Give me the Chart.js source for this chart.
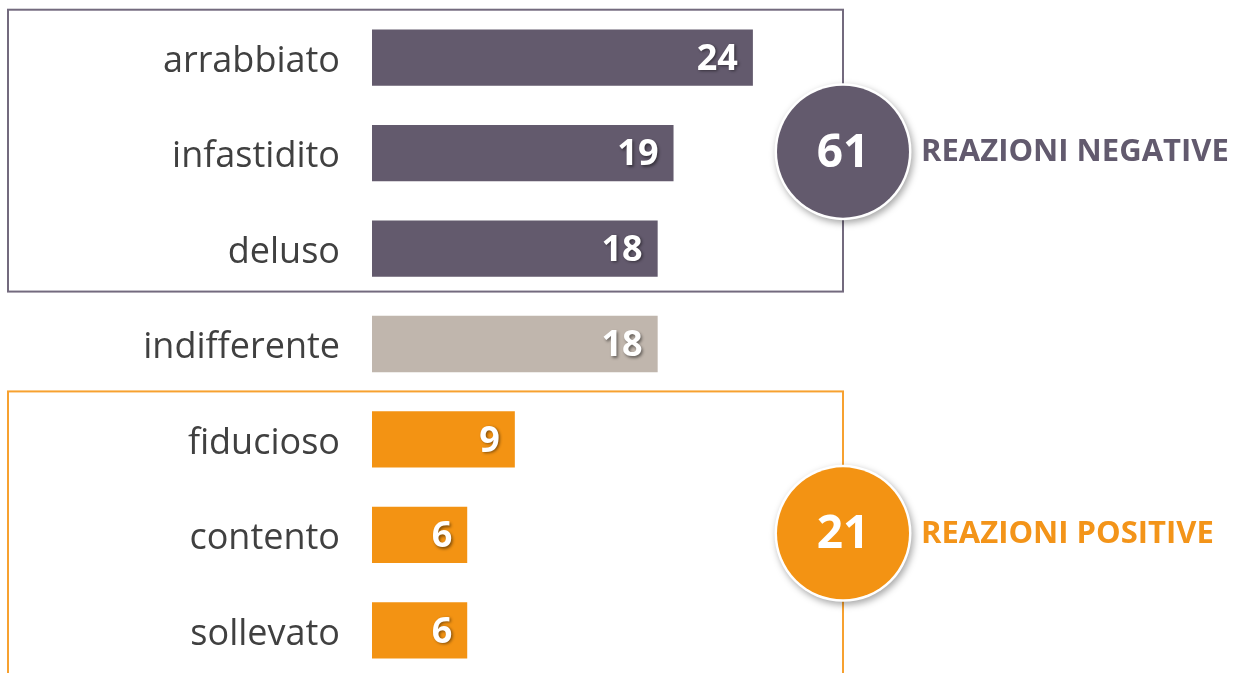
<!DOCTYPE html>
<html>
<head>
<meta charset="utf-8">
<script src="https://cdn.jsdelivr.net/npm/chart.js@4"></script>
<style>
  html, body { margin: 0; padding: 0; background: #fff; overflow: hidden; }
  canvas { display: block; }
</style>
</head>
<body>
<canvas id="reazioni-grafica" width="1239" height="690"></canvas>
<script>
(function(){
  // dati
  const categorie = ['arrabbiato', 'infastidito', 'deluso', 'indifferente', 'fiducioso', 'contento', 'sollevato'];
  const valori = [24, 19, 18, 18, 9, 6, 6];
  const gruppi = ['neg', 'neg', 'neg', 'neu', 'pos', 'pos', 'pos'];
  const titoliGruppi = { neg: 'REAZIONI NEGATIVE', pos: 'REAZIONI POSITIVE' };

  const coloriGruppi = { neg: '#635a6d', neu: '#c0b6ad', pos: '#f39313' };
  const bordiGruppi = { neg: '#736a7e', pos: '#f7a130' };
  const testoGruppi = { neg: '#625a6e', pos: '#f39419' };
  // il riquadro arancione continua oltre il bordo inferiore
  const margineSotto = { neg: 43, pos: 55 };

  const BOX_LEFT = 8, BOX_RIGHT = 843, RAGGIO = 66;

  const ctx = document.getElementById('reazioni-grafica');

  // etichette bianche con ombra dentro le barre
  const valoriPlugin = {
    id: 'valori',
    afterDatasetsDraw(chart){
      const c = chart.ctx;
      chart.getDatasetMeta(0).data.forEach((bar, i) => {
        c.save();
        c.font = 'bold 36px "Open Sans"';
        c.fillStyle = '#ffffff';
        c.textAlign = 'right';
        c.textBaseline = 'middle';
        c.shadowColor = 'rgba(0,0,0,0.45)';
        c.shadowBlur = 3;
        c.shadowOffsetX = 1.5;
        c.shadowOffsetY = 1.5;
        c.fillText(String(valori[i]), bar.x - 15, bar.y + 2);
        c.restore();
      });
    }
  };

  // riquadri, cerchi con totale e titoli
  const gruppiPlugin = {
    id: 'gruppi',
    afterDraw(chart){
      const c = chart.ctx;
      const y = chart.scales.y;
      ['neg', 'pos'].forEach(g => {
        const idx = gruppi.map((v, i) => v === g ? i : -1).filter(i => i >= 0);
        const primo = idx[0], ultimo = idx[idx.length - 1];
        const top = y.getPixelForValue(primo) - 48;
        const bottom = y.getPixelForValue(ultimo) + margineSotto[g];
        const totale = idx.reduce((s, i) => s + valori[i], 0);

        c.save();
        c.strokeStyle = bordiGruppi[g];
        c.lineWidth = 2;
        c.strokeRect(BOX_LEFT, top, BOX_RIGHT - BOX_LEFT, bottom - top);
        c.restore();

        const cy = y.getPixelForValue(idx[1]) - 1.5;
        c.save();
        c.shadowColor = 'rgba(0,0,0,0.35)';
        c.shadowBlur = 7;
        c.shadowOffsetX = 2;
        c.shadowOffsetY = 3;
        c.fillStyle = '#ffffff';
        c.beginPath();
        c.arc(BOX_RIGHT, cy, RAGGIO + 2.5, 0, Math.PI * 2);
        c.fill();
        c.restore();

        c.save();
        c.fillStyle = coloriGruppi[g];
        c.beginPath();
        c.arc(BOX_RIGHT, cy, RAGGIO, 0, Math.PI * 2);
        c.fill();
        c.fillStyle = '#ffffff';
        c.font = 'bold 46px "Open Sans"';
        c.textAlign = 'center';
        c.textBaseline = 'middle';
        c.fillText(String(totale), BOX_RIGHT, cy + 2);

        c.fillStyle = testoGruppi[g];
        c.font = 'bold 31px "Open Sans"';
        c.textAlign = 'left';
        c.fillText(titoliGruppi[g], BOX_RIGHT + RAGGIO + 12, cy + 1);
        c.restore();
      });
    }
  };

  new Chart(ctx, {
    type: 'bar',
    data: {
      labels: categorie,
      datasets: [{
        data: valori,
        backgroundColor: gruppi.map(g => coloriGruppi[g]),
        barPercentage: 0.59,
        categoryPercentage: 1
      }]
    },
    options: {
      indexAxis: 'y',
      responsive: false,
      animation: false,
      layout: { padding: { top: 10, bottom: 12, right: 10, left: 0 } },
      scales: {
        x: { display: false, min: 0, max: 54 },
        y: {
          afterFit(scale){
            scale.width = 372;
            scale.paddingTop = 0;
            scale.paddingBottom = 0;
          },
          grid: { display: false, drawTicks: false },
          border: { display: false },
          ticks: {
            padding: 32,
            labelOffset: 4,
            color: '#404040',
            font: { family: 'Open Sans', size: 36 }
          }
        }
      },
      plugins: {
        legend: { display: false },
        tooltip: { enabled: false }
      }
    },
    plugins: [valoriPlugin, gruppiPlugin]
  });
})();
</script>
</body>
</html>
